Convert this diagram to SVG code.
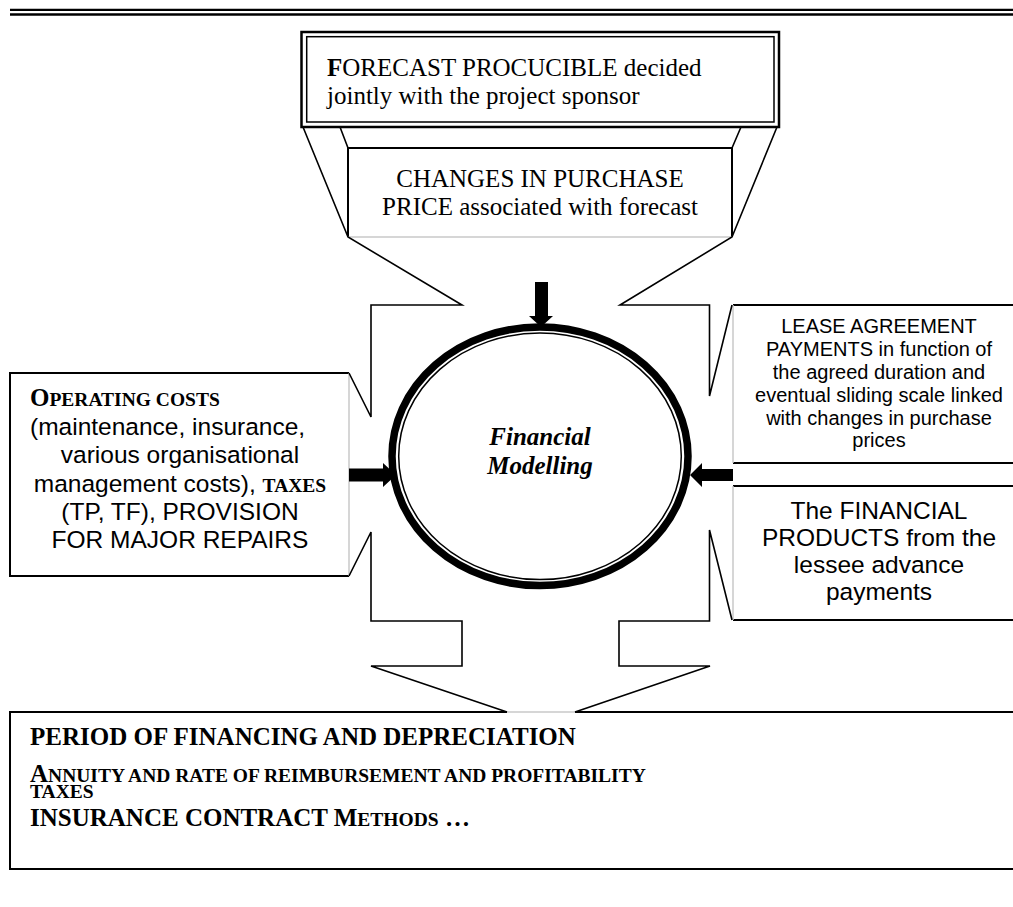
<svg xmlns="http://www.w3.org/2000/svg" width="1013" height="907" viewBox="0 0 1013 907">
  <style>
    .serif { font-family: "Liberation Serif", "Times New Roman", serif; font-size: 25px; fill: #000; }
    .sans { font-family: "Liberation Sans", Arial, sans-serif; fill: #000; }
    .sc { font-family: "Liberation Serif", "Times New Roman", serif; font-size: 19.5px; font-weight: bold; }
    .b { font-weight: bold; }
    .edge { fill: none; stroke: #000; stroke-width: 2; }
    .soft { fill: none; stroke: #c8c8c8; stroke-width: 1.5; }
    .outline { fill: none; stroke: #000; stroke-width: 1.6; stroke-linejoin: miter; }
    .box { fill: #fff; stroke: none; }
  </style>

  <rect x="0" y="0" width="1013" height="907" fill="#fff"/>

  <!-- page rule at the top -->
  <g id="page-rule">
    <line x1="10" y1="9.8" x2="1013" y2="9.8" stroke="#000" stroke-width="2.3"/>
    <line x1="10" y1="14.5" x2="1013" y2="14.5" stroke="#000" stroke-width="2.3"/>
  </g>

  <!-- forecast box, double frame -->
  <g id="forecast">
    <rect x="301.5" y="32" width="477.5" height="95" fill="#fff" stroke="#000" stroke-width="2.5"/>
    <rect x="306.7" y="36.7" width="467.3" height="85.3" fill="none" stroke="#000" stroke-width="1.5"/>
    <text class="serif" x="327" y="76"><tspan class="b">F</tspan>ORECAST PROCUCIBLE decided</text>
    <text class="serif" x="327" y="104">jointly with the project sponsor</text>
  </g>

  <!-- purchase price box -->
  <g id="purchase-price">
    <rect class="box" x="348" y="148" width="384" height="89"/>
    <path class="edge" d="M348,237 L348,148 L732,148 L732,237" stroke-width="1.6"/>
    <line class="soft" x1="348" y1="237" x2="732" y2="237"/>
    <text class="serif" x="540" y="187" text-anchor="middle">CHANGES IN PURCHASE</text>
    <text class="serif" x="540" y="215" text-anchor="middle">PRICE associated with forecast</text>
  </g>

  <!-- operating costs box -->
  <g id="operating-costs">
    <rect class="box" x="10" y="373" width="339" height="203"/>
    <path class="edge" d="M349,373 L10,373 L10,576 L349,576"/>
    <line class="soft" x1="349" y1="373" x2="349" y2="576"/>
    <text class="serif b" x="30" y="406">O<tspan class="sc">PERATING COSTS</tspan></text>
    <text class="sans" font-size="24.5" x="30" y="435">(maintenance, insurance,</text>
    <text class="sans" font-size="24.5" x="180" y="463" text-anchor="middle">various organisational</text>
    <text class="sans" font-size="24.5" x="180" y="492" text-anchor="middle">management costs), <tspan class="sc">TAXES</tspan></text>
    <text class="sans" font-size="24.5" x="180" y="520" text-anchor="middle">(TP, TF), PROVISION</text>
    <text class="sans" font-size="24.5" x="180" y="548" text-anchor="middle">FOR MAJOR REPAIRS</text>
  </g>

  <!-- lease payments box -->
  <g id="lease-payments">
    <rect class="box" x="733" y="305" width="290" height="158"/>
    <path class="edge" d="M733,305 L1020,305 M733,463 L1020,463"/>
    <line class="soft" x1="733" y1="305" x2="733" y2="463"/>
    <g class="sans" font-size="20" text-anchor="middle">
      <text x="879" y="333">LEASE AGREEMENT</text>
      <text x="879" y="356">PAYMENTS in function of</text>
      <text x="879" y="378.5">the agreed duration and</text>
      <text x="879" y="401.5">eventual sliding scale linked</text>
      <text x="879" y="424.5">with changes in purchase</text>
      <text x="879" y="447">prices</text>
    </g>
  </g>

  <!-- financial products box -->
  <g id="financial-products">
    <rect class="box" x="733" y="486" width="290" height="134"/>
    <path class="edge" d="M733,486 L1020,486 M733,620 L1020,620"/>
    <line class="soft" x1="733" y1="486" x2="733" y2="620"/>
    <g class="sans" font-size="24.5" text-anchor="middle">
      <text x="879" y="518.5">The FINANCIAL</text>
      <text x="879" y="545.5">PRODUCTS from the</text>
      <text x="879" y="572.5">lessee advance</text>
      <text x="879" y="599.5">payments</text>
    </g>
  </g>

  <!-- financing summary box -->
  <g id="financing-summary">
    <rect class="box" x="10" y="712" width="1013" height="157"/>
    <path class="edge" d="M507,712 L10,712 L10,869 L1020,869 M575,712 L1020,712"/>
    <line class="soft" x1="507" y1="712" x2="575" y2="712"/>
    <text class="serif b" x="30" y="745">PERIOD OF FINANCING AND DEPRECIATION</text>
    <text class="serif b" x="30" y="782">A<tspan class="sc">NNUITY AND RATE OF REIMBURSEMENT AND PROFITABILITY</tspan></text>
    <text class="sc" x="30" y="798">TAXES</text>
    <text class="serif b" x="30" y="826">INSURANCE CONTRACT M<tspan class="sc">ETHODS</tspan> …</text>
  </g>

  <!-- central model -->
  <g id="financial-modelling">
    <ellipse cx="540" cy="456.3" rx="148" ry="129.3" fill="#fff" stroke="#000" stroke-width="7.5"/>
    <ellipse cx="540" cy="456.3" rx="141.3" ry="123.3" fill="none" stroke="#000" stroke-width="1.5"/>
    <text class="serif b" font-style="italic" x="540" y="445" text-anchor="middle">Financial</text>
    <text class="serif b" font-style="italic" x="540" y="474" text-anchor="middle">Modelling</text>
  </g>

  <!-- connectors: callout outline and flow arrows -->
  <g id="connectors">
    <path class="outline" d="M303,127 L348,237 L462,305 L371,305 L371,417 L349,373"/>
    <path class="outline" d="M777,127 L732,237 L620,305 L709.5,305 L709.5,396 L732,305"/>
    <path class="outline" d="M340,127 L348,148 M741,127 L732,148"/>
    <path class="outline" d="M349,576 L371,532 L371,621 L462,621 L462,666 L371,666 L507,712"/>
    <path class="outline" d="M732,620 L709.5,530 L709.5,621 L619,621 L619,666 L710,666 L575,712"/>

    <!-- arrows into the model -->
    <path d="M535,282 L548,282 L548,316 L553,316 L541,327 L529,316 L535,316 Z" fill="#000"/>
    <path d="M349,468.5 L383,468.5 L383,463 L396,475 L383,487 L383,481.5 L349,481.5 Z" fill="#000"/>
    <path d="M733,469 L702,469 L702,463 L690,475 L702,487 L702,481 L733,481 Z" fill="#000"/>
  </g>
</svg>
